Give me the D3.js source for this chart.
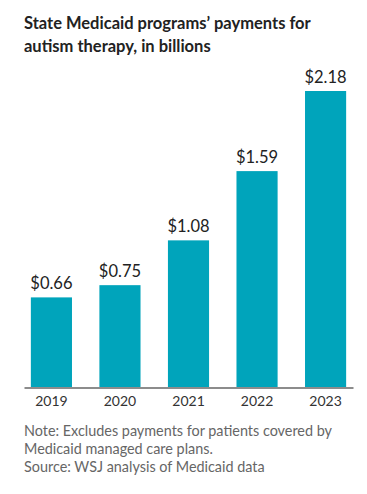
<!DOCTYPE html>
<html><head><meta charset="utf-8">
<script src="https://cdn.jsdelivr.net/npm/d3@7"></script>
<style>
body{margin:0;background:#fff;}
svg{display:block;}
</style></head>
<body>
<script>
const years = ["2019","2020","2021","2022","2023"];
const values = [0.66, 0.75, 1.08, 1.59, 2.18];
const valueLabels = ["$0.66","$0.75","$1.08","$1.59","$2.18"];
const titleLines = ["State Medicaid programs’ payments for","autism therapy, in billions"];
const noteLines = ["Note: Excludes payments for patients covered by","Medicaid managed care plans.","Source: WSJ analysis of Medicaid data"];

const W = 367, H = 494;
const svg = d3.select("body").append("svg").attr("width", W).attr("height", H);

const font = "Lato, 'Open Sans', sans-serif";

svg.selectAll("text.title").data(titleLines).join("text")
  .attr("class","title")
  .attr("x", 24).attr("y", (d,i)=>29 + i*23)
  .attr("font-family", font).attr("font-weight", 700).attr("font-size", 16.5)
  .attr("fill", "#222").text(d=>d);

const x = d3.scaleBand().domain(years).range([24, 353]).paddingInner(0.4).paddingOuter(0.1);
const y = d3.scaleLinear().domain([0, 2.18]).range([387, 91]);

svg.selectAll("rect.bar").data(values).join("rect")
  .attr("class","bar")
  .attr("x", (d,i)=>x(years[i])).attr("width", x.bandwidth())
  .attr("y", d=>y(d)).attr("height", d=>y(0)-y(d))
  .attr("fill", "#00a4bb");

svg.selectAll("text.val").data(values).join("text")
  .attr("class","val")
  .attr("x", (d,i)=>x(years[i]) + x.bandwidth()/2)
  .attr("y", d=>y(d) - 8.5)
  .attr("text-anchor","middle")
  .attr("font-family", font).attr("font-weight", 400).attr("font-size", 16.5)
  .attr("fill", "#222").text((d,i)=>valueLabels[i]);

const ax = svg.append("g").attr("transform", "translate(0,387.5)")
  .call(d3.axisBottom(x).tickSize(0).tickPadding(7.5));
ax.select(".domain").attr("stroke", "#666").attr("stroke-width", 1.6);
ax.selectAll("text").attr("font-family", font).attr("font-size", 14).attr("fill", "#333").attr("dy","0.75em");

svg.selectAll("text.note").data(noteLines).join("text")
  .attr("class","note")
  .attr("x", 24).attr("y", (d,i)=>436 + i*18)
  .attr("font-family", font).attr("font-size", 14.4)
  .attr("fill", "#666").text(d=>d);
</script>
</body></html>
